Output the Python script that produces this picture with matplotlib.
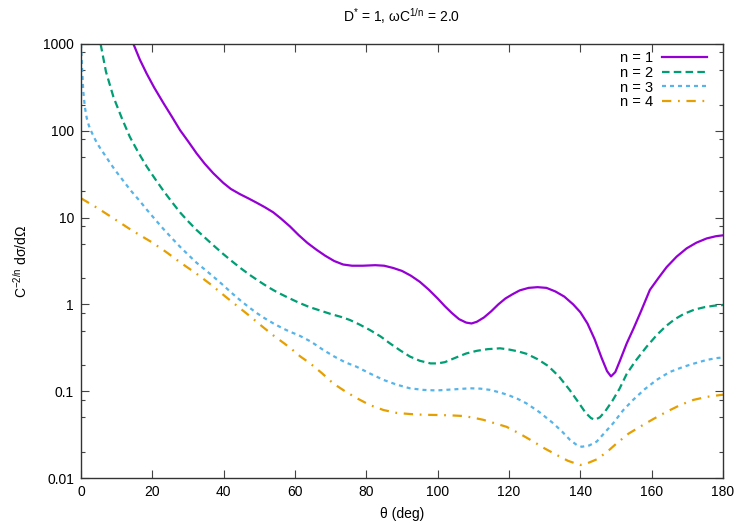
import numpy as np
import matplotlib
matplotlib.use("Agg")
import matplotlib.pyplot as plt
from matplotlib.ticker import LogLocator, FixedLocator, NullFormatter

plt.rcParams['font.family'] = ['Liberation Sans', 'DejaVu Sans']
plt.rcParams['mathtext.fontset'] = 'custom'
plt.rcParams['mathtext.rm'] = 'Liberation Sans'
plt.rcParams['mathtext.it'] = 'Liberation Sans:italic'

# ---------------- data ----------------
theta_n1 = [14.7, 16.5, 18.4, 20.5, 23.1, 25.5, 27.75, 30, 32.4, 34.7,
            37.1, 39.9, 42, 44.6, 47, 49.3, 51.5, 53.9, 56, 58.6,
            61, 63.5, 66, 68.5, 71, 73.5, 76, 79, 82.5, 85,
            87.5, 90, 92.5, 95, 97.5, 100, 102, 104, 106, 108,
            109.5, 111, 113, 115, 117, 119, 121, 123, 125.5, 128,
            130.5, 133, 135.5, 138, 140, 142, 144, 146, 147.5, 148.6,
            149.8, 151, 153, 155, 157, 159.5, 162, 164.2, 167, 169.8,
            172.5, 175.4, 178, 180]
sig_n1 = [1000, 661, 457, 316, 209, 145, 102, 76, 55, 41.7,
          32.4, 25.1, 21.4, 18.6, 16.6, 14.8, 13.2, 11.5, 9.8, 7.9,
          6.3, 5.1, 4.27, 3.63, 3.16, 2.88, 2.79, 2.79, 2.83, 2.79,
          2.63, 2.43, 2.14, 1.82, 1.48, 1.17, 0.955, 0.794, 0.676, 0.617,
          0.603, 0.631, 0.708, 0.832, 1.0, 1.17, 1.31, 1.45, 1.55, 1.58,
          1.55, 1.41, 1.23, 1.0, 0.813, 0.603, 0.398, 0.24, 0.17, 0.148,
          0.166, 0.219, 0.355, 0.537, 0.832, 1.47, 2.04, 2.69, 3.55, 4.42,
          5.13, 5.75, 6.1, 6.25]

theta_n2 = [5.5, 7, 9.1, 11.5, 13.7, 16.1, 18.4, 20.7, 23.1, 25.5,
            27.75, 30, 32.4, 35, 37.1, 39.9, 42.5, 45, 47.5, 50,
            52.5, 55, 58, 61, 64, 67, 70, 73, 75.4, 78,
            81, 84, 86.6, 89.5, 92.2, 95, 98, 100, 102, 105,
            108, 111, 114, 117.5, 120, 122.5, 125, 128, 131, 134,
            137, 139.5, 141.5, 143, 144.1, 145.5, 147, 149, 151, 153,
            155.5, 158.6, 161.5, 164, 166.5, 169, 172, 175, 177.5, 180]
sig_n2 = [1000, 479, 245, 138, 85, 56, 38.9, 28.2, 20.4, 15.1,
          11.5, 9.1, 7.2, 5.75, 4.8, 3.8, 3.1, 2.57, 2.16, 1.84,
          1.58, 1.38, 1.2, 1.05, 0.933, 0.851, 0.776, 0.716, 0.661, 0.589,
          0.507, 0.427, 0.356, 0.295, 0.251, 0.224, 0.209, 0.209, 0.216, 0.243,
          0.272, 0.292, 0.305, 0.312, 0.302, 0.288, 0.269, 0.234, 0.195, 0.148,
          0.1035, 0.0741, 0.0562, 0.049, 0.0468, 0.0501, 0.0589, 0.0776, 0.107, 0.158,
          0.224, 0.326, 0.447, 0.562, 0.676, 0.776, 0.871, 0.933, 0.966, 0.984]

theta_n3 = [0, 0.3, 0.65, 1.1, 1.6, 2.2, 2.8, 3.6, 4.5, 5.5,
            6.7, 8, 9.5, 11, 12.5, 14, 16.5, 18.4, 21.2, 23.1,
            25.9, 27.75, 30.6, 32.4, 35.2, 37.1, 39.9, 42.2, 44.6, 47,
            49.3, 51.5, 53.9, 56.5, 58.6, 61, 64.5, 67.9, 71, 74,
            77.3, 81, 84.8, 88.5, 92.2, 96, 99.7, 104.5, 109.1, 112,
            114.7, 117.5, 119.8, 122.5, 124.9, 128.5, 132.4, 135, 137.1, 139,
            140.4, 142.5, 144.6, 147, 149.2, 152, 154.8, 158, 161.4, 165,
            168.9, 172, 175.4, 178, 180]
sig_n3 = [1000, 525, 282, 186, 141, 115, 100, 85, 72, 62,
          52.5, 43.6, 35.5, 29.5, 24.5, 20.4, 15.5, 12.4, 9.1, 7.4,
          5.56, 4.62, 3.55, 3.02, 2.43, 2.09, 1.66, 1.36, 1.12, 0.933,
          0.794, 0.692, 0.605, 0.531, 0.484, 0.442, 0.372, 0.299, 0.251, 0.216,
          0.191, 0.16, 0.135, 0.119, 0.108, 0.1035, 0.102, 0.105, 0.108, 0.107,
          0.1035, 0.0966, 0.0902, 0.0813, 0.0724, 0.0575, 0.0427, 0.0339, 0.0275, 0.024,
          0.0229, 0.0237, 0.0263, 0.0339, 0.0427, 0.0603, 0.0794, 0.105, 0.135, 0.166,
          0.191, 0.209, 0.229, 0.24, 0.245]

theta_n4 = [0, 5, 9.1, 14, 20.1, 24, 28.2, 32.5, 36.6, 40.5,
            44.6, 47.8, 50.9, 54, 57.2, 59.5, 61.5, 64.2, 67.5, 70.7,
            74, 77.3, 81, 84.8, 88.5, 92.2, 96, 99.7, 103.5, 107.2,
            110, 112.8, 116, 119.3, 123, 126.8, 130, 133.4, 136.5, 139.9,
            142, 144.6, 147.5, 150.2, 153.5, 156.7, 160.5, 164.2, 168, 171.7,
            175.5, 180]
sig_n4 = [16.7, 12.6, 9.8, 7.24, 5.13, 3.98, 2.97, 2.24, 1.67, 1.23,
          0.902, 0.708, 0.553, 0.437, 0.35, 0.295, 0.251, 0.21, 0.162, 0.123,
          0.1, 0.0832, 0.0692, 0.0607, 0.0562, 0.0546, 0.0535, 0.0532, 0.0527, 0.0518,
          0.0495, 0.0468, 0.0427, 0.0389, 0.0324, 0.0263, 0.0219, 0.0184, 0.0158, 0.0141,
          0.0148, 0.0164, 0.02, 0.0251, 0.0324, 0.0389, 0.0479, 0.058, 0.0692, 0.0794,
          0.0861, 0.0912]

labels = ['n = 1', 'n = 2', 'n = 3', 'n = 4']
colors = ['#9400d3', '#009e73', '#56b4e9', '#e69f00']
xticks = [0, 20, 40, 60, 80, 100, 120, 140, 160, 180]
yticks = [0.01, 0.1, 1, 10, 100, 1000]
ytick_labels = ['0.01', '0.1', '1', '10', '100', '1000']

# ---------------- figure ----------------
fig = plt.figure(figsize=(7.5, 5.25), dpi=100)
ax = fig.add_axes([81/750, 47/525, 642/750, 434/525])

lw = 1.6
common = dict(lw=lw, solid_joinstyle='round', dash_joinstyle='round')
ax.plot(theta_n1, sig_n1, color=colors[0], label=labels[0], **common)
ax.plot(theta_n2, sig_n2, color=colors[1], label=labels[1],
        dashes=(3.4, 1.9), **common)
ax.plot(theta_n3, sig_n3, color=colors[2], label=labels[2],
        dashes=(1.8, 1.8), **common)
ax.plot(theta_n4, sig_n4, color=colors[3], label=labels[3],
        dashes=(4.2, 3.0, 0.8, 3.0), **common)

ax.set_yscale('log')
ax.set_xlim(0, 180)
ax.set_ylim(0.01, 1000)

ax.xaxis.set_major_locator(FixedLocator(xticks))
ax.yaxis.set_major_locator(FixedLocator(yticks))
ax.set_yticklabels(ytick_labels)
ax.yaxis.set_minor_locator(LogLocator(base=10, subs=(2.0, 5.0, 8.0)))
ax.yaxis.set_minor_formatter(NullFormatter())

ax.tick_params(which='both', direction='in', top=True, right=True,
               labelsize=10, color='#444444')
ax.tick_params(which='major', length=6, width=0.8, pad=5)
ax.tick_params(which='minor', length=3, width=0.8)
for s in ax.spines.values():
    s.set_color('#333333')
    s.set_linewidth(1.0)

ax.set_xlabel(r'θ (deg)', fontsize=10, labelpad=6)
ax.set_ylabel(r'C$^{\mathregular{-2/n}}$ dσ/dΩ', fontsize=10, labelpad=10)
ax.set_title(r'D$^{\mathregular{*}}$ = 1, ωC$^{\mathregular{1/n}}$ = 2.0',
             fontsize=10, pad=16)

leg = ax.legend(loc='upper right', bbox_to_anchor=(0.984, 0.997), frameon=False,
                markerfirst=False, fontsize=10.5, handlelength=3.1,
                handletextpad=0.6, labelspacing=0.05, borderaxespad=0.0)

fig.savefig('out.png', dpi=100)
